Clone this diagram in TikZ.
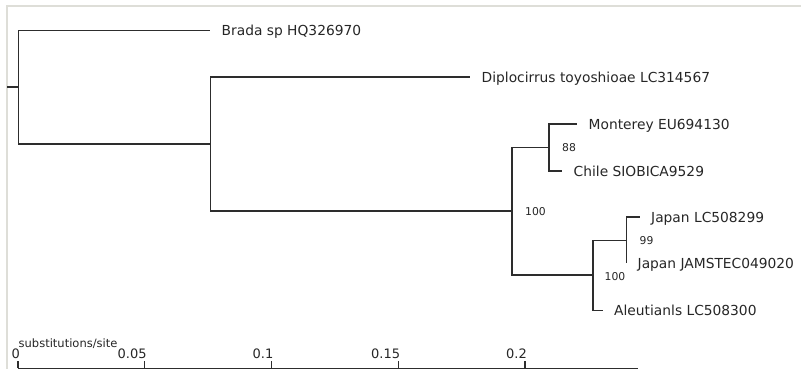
\documentclass[tikz,border=0pt]{standalone}
\usepackage{fontspec}
\setmainfont{DejaVu Sans}
\definecolor{branch}{RGB}{45,45,45}
\definecolor{frame}{RGB}{222,222,216}
\begin{document}
\begin{tikzpicture}[x=1pt,y=-1pt,
  br/.style={draw=branch,line width=1.6pt},
  leaf/.style={anchor=base west,inner sep=0pt,font=\fontsize{13.8}{16}\selectfont,text=black!85},
  supp/.style={anchor=west,inner sep=0pt,font=\fontsize{10.8}{12}\selectfont,text=black!85},
  ticklab/.style={anchor=base east,inner sep=0pt,font=\fontsize{13}{15}\selectfont,text=black!85},
  frameline/.style={draw=frame,line width=1.5pt}]
\useasboundingbox (0,0) rectangle (801,369);
% frame
\coordinate (f0) at (7,369);
\coordinate (f1) at (7,6);
\coordinate (f2) at (801,6);
\draw[frameline] (f0) -- (f1) -- (f2);
% tree nodes
\coordinate (stub) at (7,87);
\coordinate (root) at (18.3,87);
\coordinate (A) at (210.5,144);
\coordinate (B) at (512,211);
\coordinate (C) at (549,147.5);
\coordinate (D) at (593,275);
\coordinate (E) at (626.5,240.5);
% tips
\coordinate (tBrada) at (210,30.5);
\coordinate (tDipl) at (470,77.3);
\coordinate (tMont) at (577,124);
\coordinate (tChile) at (562,171);
\coordinate (tJapLC) at (639.5,217);
\coordinate (tJam) at (626.5,263);
\coordinate (tAleu) at (602.5,310.5);
% branches
\draw[br] (stub) -- (root);
\draw[br] (root) |- (tBrada);
\draw[br] (root) |- (A);
\draw[br] (A) |- (tDipl);
\draw[br] (A) |- (B);
\draw[br] (B) |- (C);
\draw[br] (B) |- (D);
\draw[br] (C) |- (tMont);
\draw[br] (C) |- (tChile);
\draw[br] (D) |- (E);
\draw[br] (D) |- (tAleu);
\draw[br] (E) |- (tJapLC);
\draw[br] (E) |- (tJam);
% leaf labels
\node[leaf] (lBrada) at ([shift={(11.5,5.3)}]tBrada) {Brada sp HQ326970};
\node[leaf] (lDipl) at ([shift={(11.5,5.3)}]tDipl) {Diplocirrus toyoshioae LC314567};
\node[leaf] (lMont) at ([shift={(11.5,5.3)}]tMont) {Monterey EU694130};
\node[leaf] (lChile) at ([shift={(11.5,5.3)}]tChile) {Chile SIOBICA9529};
\node[leaf] (lJapLC) at ([shift={(11.5,5.3)}]tJapLC) {Japan LC508299};
\node[leaf] (lJam) at ([shift={(11,5.3)}]tJam) {Japan JAMSTEC049020};
\node[leaf] (lAleu) at ([shift={(11.5,5.3)}]tAleu) {Aleutianls LC508300};
% support values
\node[supp] (sB) at (525,212) {100};
\node[supp] (sC) at (562,148) {88};
\node[supp] (sD) at (604.5,276.5) {100};
\node[supp] (sE) at (639.5,241) {99};
% scale axis
\coordinate (ax0) at (18,368.3);
\coordinate (ax1) at (638,368.3);
\draw[br,line width=1.4pt] (ax0) -- (ax1);
\foreach \i/\lab in {0/0,1/0.05,2/0.1,3/0.15,4/0.2}{
  \coordinate (tk\i) at (18+126.75*\i,368.3);
  \coordinate (tt\i) at (18+126.75*\i,360.8);
  \draw[br,line width=1.4pt] (tk\i) -- (tt\i);
  \node[ticklab] (tl\i) at ([shift={(2,-10)}]tk\i) {\lab};
}
\node[anchor=base west,inner sep=0pt,font=\fontsize{11.5}{13}\selectfont,text=black!85] (unit) at (18.5,347) {substitutions/site};
\end{tikzpicture}
\end{document}
